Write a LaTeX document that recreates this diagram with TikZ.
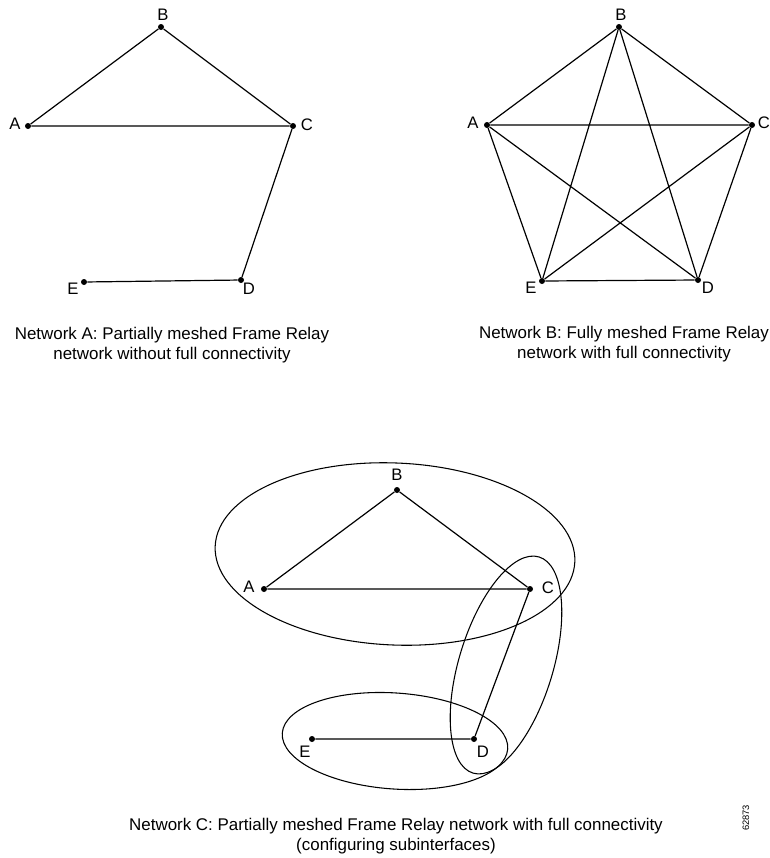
\documentclass[tikz,border=0pt]{standalone}
\usepackage{fontspec}
\setmainfont{Liberation Sans}
\begin{document}
\begin{tikzpicture}[x=0.75pt,y=-0.75pt,
  dot/.style={circle,fill=black,inner sep=0pt,minimum size=4.5pt},
  lbl/.style={inner sep=0pt,font=\fontsize{12.5}{15}\selectfont},
  captext/.style={inner sep=0pt,align=center,font=\fontsize{12.7}{15}\selectfont},
  link/.style={line width=0.9pt},
  ring/.style={line width=0.8pt}]
\useasboundingbox (0,0) rectangle (770,858);
% ---------------- Network A ----------------
\node[dot] (aA) at (28,126) {};
\node[dot] (aB) at (161,27) {};
\node[dot] (aC) at (293,126) {};
\node[dot] (aD) at (241,280) {};
\node[dot] (aE) at (84,282) {};
\node[lbl] (aAl) at (15,124) {A};
\node[lbl] (aBl) at (163,15) {B};
\node[lbl] (aCl) at (307,125) {C};
\node[lbl] (aDl) at (249,289) {D};
\node[lbl] (aEl) at (73,289) {E};
\draw[link] (aA) -- (aB) -- (aC) -- (aA);
\draw[link] (aC) -- (aD) -- (aE);
\node[captext] (capA) at (172,345) {Network A: Partially meshed Frame Relay\\network without full connectivity};
% ---------------- Network B ----------------
\node[dot] (bA) at (487,125) {};
\node[dot] (bB) at (619,27) {};
\node[dot] (bC) at (752,125) {};
\node[dot] (bD) at (698,280) {};
\node[dot] (bE) at (542,281) {};
\node[lbl] (bAl) at (473,123) {A};
\node[lbl] (bBl) at (621,15) {B};
\node[lbl] (bCl) at (764,123) {C};
\node[lbl] (bDl) at (708,288) {D};
\node[lbl] (bEl) at (531,288) {E};
\draw[link] (bA) -- (bB) -- (bC) -- (bD) -- (bE) -- (bA);
\draw[link] (bA) -- (bC) -- (bE) -- (bB) -- (bD) -- (bA);
\node[captext] (capB) at (624,344) {Network B: Fully meshed Frame Relay\\network with full connectivity};
% ---------------- Network C ----------------
\node[dot] (cA) at (264,589) {};
\node[dot] (cB) at (397,490) {};
\node[dot] (cC) at (530,589) {};
\node[dot] (cD) at (474,739) {};
\node[dot] (cE) at (312,739) {};
\node[lbl] (cAl) at (249,587) {A};
\node[lbl] (cBl) at (397,475) {B};
\node[lbl] (cCl) at (548,588) {C};
\node[lbl] (cDl) at (483,752) {D};
\node[lbl] (cEl) at (305,752) {E};
\draw[link] (cA) -- (cB) -- (cC) -- (cA);
\draw[link] (cC) -- (cD) -- (cE);
\draw[ring, rotate around={-2.5:(395,554)}] (395,554) ellipse [x radius=180, y radius=91];
\draw[ring, rotate around={-17:(506,665)}] (506,665) ellipse [x radius=47, y radius=113];
\draw[ring, rotate around={-4:(395,741)}] (395,741) ellipse [x radius=113, y radius=48];
\node[captext] (capC) at (396,836) {Network C: Partially meshed Frame Relay network with full connectivity\\(configuring subinterfaces)};
\node[inner sep=0pt,rotate=90,font=\fontsize{7}{8}\selectfont] (fig) at (746,818) {62873};
\end{tikzpicture}
\end{document}
